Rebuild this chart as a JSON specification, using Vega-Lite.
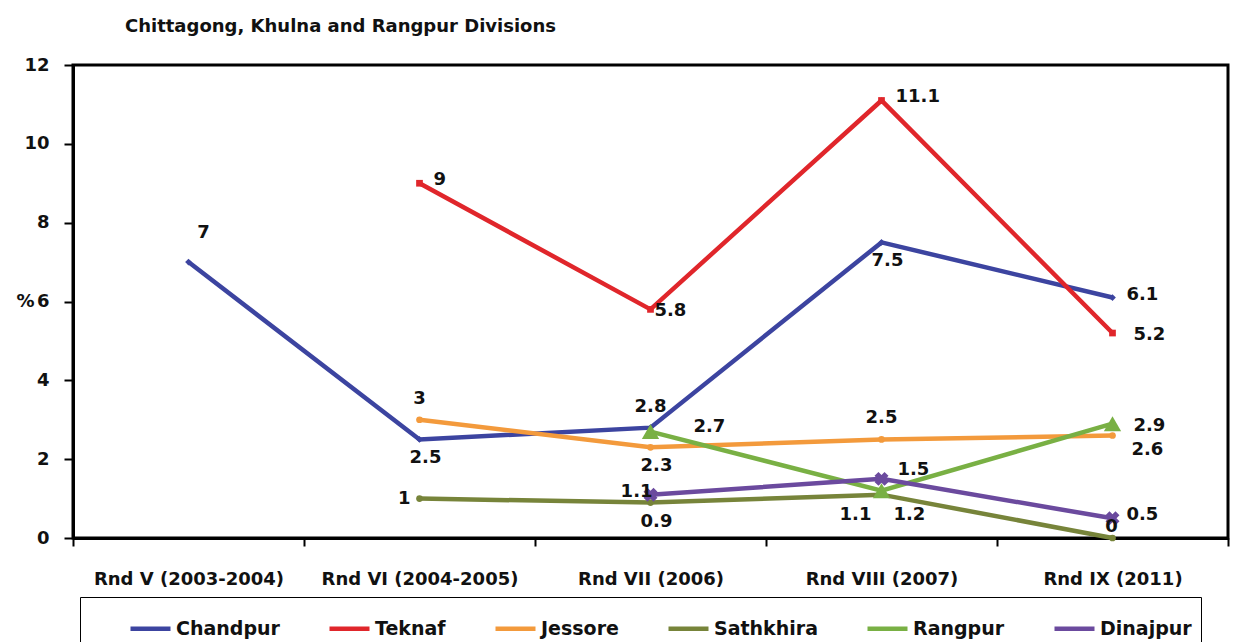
{
  "$schema": "https://vega.github.io/schema/vega-lite/v6.json",
  "width": 1155,
  "height": 473,
  "autosize": {"type": "none"},
  "padding": {"left": 73, "top": 65, "right": 11, "bottom": 104},
  "background": "white",
  "title": {"text": "Chittagong, Khulna and Rangpur Divisions", "anchor": "start", "dx": 109, "offset": 20, "font": "DejaVu Sans", "fontSize": 18, "fontWeight": "bold", "color": "#111"},
  "config": {
    "view": {"stroke": "black", "strokeWidth": 3},
    "font": "DejaVu Sans"
  },
  "data": {"values": [
    {"series": "Chandpur", "round": "Rnd V (2003-2004)", "value": 7},
    {"series": "Chandpur", "round": "Rnd VI (2004-2005)", "value": 2.5},
    {"series": "Chandpur", "round": "Rnd VII (2006)", "value": 2.8},
    {"series": "Chandpur", "round": "Rnd VIII (2007)", "value": 7.5},
    {"series": "Chandpur", "round": "Rnd IX (2011)", "value": 6.1},
    {"series": "Teknaf", "round": "Rnd VI (2004-2005)", "value": 9},
    {"series": "Teknaf", "round": "Rnd VII (2006)", "value": 5.8},
    {"series": "Teknaf", "round": "Rnd VIII (2007)", "value": 11.1},
    {"series": "Teknaf", "round": "Rnd IX (2011)", "value": 5.2},
    {"series": "Jessore", "round": "Rnd VI (2004-2005)", "value": 3},
    {"series": "Jessore", "round": "Rnd VII (2006)", "value": 2.3},
    {"series": "Jessore", "round": "Rnd VIII (2007)", "value": 2.5},
    {"series": "Jessore", "round": "Rnd IX (2011)", "value": 2.6},
    {"series": "Sathkhira", "round": "Rnd VI (2004-2005)", "value": 1},
    {"series": "Sathkhira", "round": "Rnd VII (2006)", "value": 0.9},
    {"series": "Sathkhira", "round": "Rnd VIII (2007)", "value": 1.1},
    {"series": "Sathkhira", "round": "Rnd IX (2011)", "value": 0},
    {"series": "Rangpur", "round": "Rnd VII (2006)", "value": 2.7},
    {"series": "Rangpur", "round": "Rnd VIII (2007)", "value": 1.2},
    {"series": "Rangpur", "round": "Rnd IX (2011)", "value": 2.9},
    {"series": "Dinajpur", "round": "Rnd VII (2006)", "value": 1.1},
    {"series": "Dinajpur", "round": "Rnd VIII (2007)", "value": 1.5},
    {"series": "Dinajpur", "round": "Rnd IX (2011)", "value": 0.5}
  ]},
  "encoding": {
    "x": {"field": "round", "type": "nominal",
      "sort": ["Rnd V (2003-2004)", "Rnd VI (2004-2005)", "Rnd VII (2006)", "Rnd VIII (2007)", "Rnd IX (2011)"],
      "scale": {"type": "band", "paddingInner": 0, "paddingOuter": 0},
      "axis": {"title": null, "labelAngle": 0, "labelLimit": 0, "tickBand": "extent", "labelFont": "DejaVu Sans", "labelFontSize": 18, "labelFontWeight": "bold", "labelColor": "#111", "labelPadding": 24, "tickSize": 8, "tickWidth": 2, "tickColor": "black", "domainColor": "black", "domainWidth": 3}},
    "y": {"field": "value", "type": "quantitative",
      "scale": {"domain": [0, 12], "nice": false},
      "axis": {"values": [0, 2, 4, 6, 8, 10, 12], "grid": false, "title": "%", "titleAngle": 0, "titleAlign": "right", "titleBaseline": "middle", "titleX": -39, "titleY": 236, "titleFont": "DejaVu Sans", "titleFontSize": 18, "titleFontWeight": "bold", "titleColor": "#111", "labelFont": "DejaVu Sans", "labelFontSize": 18, "labelFontWeight": "bold", "labelColor": "#111", "labelPadding": 15, "tickSize": 9, "tickWidth": 2, "tickColor": "black", "domainColor": "black", "domainWidth": 3}}
  },
  "layer": [
    {
      "mark": {"type": "line", "strokeWidth": 4.5},
      "encoding": {
        "color": {"field": "series", "type": "nominal",
          "scale": {"domain": ["Chandpur", "Teknaf", "Jessore", "Sathkhira", "Rangpur", "Dinajpur"], "range": ["#3c44a0", "#e0262b", "#f39a3c", "#77843a", "#79b044", "#6b4a9e"]},
          "legend": {"title": "\u00a0", "titleOrient": "left", "titlePadding": 39, "orient": "none", "legendX": 7, "legendY": 532, "direction": "horizontal", "strokeColor": "black", "padding": 9, "labelFont": "DejaVu Sans", "labelFontSize": 19, "labelFontWeight": "bold", "labelColor": "#111", "symbolType": "stroke", "symbolStrokeWidth": 4.5, "symbolSize": 1600, "labelOffset": 3, "columnPadding": 40}},
        "order": {"value": null}
      }
    },
    {
      "transform": [{"filter": "datum.series != 'Dinajpur' && datum.series != 'Rangpur'"}],
      "mark": {"type": "point", "filled": true, "opacity": 1, "size": 45},
      "encoding": {
        "color": {"field": "series", "type": "nominal", "legend": null},
        "shape": {"field": "series", "type": "nominal", "legend": null,
          "scale": {"domain": ["Chandpur", "Teknaf", "Jessore", "Sathkhira"], "range": ["diamond", "square", "circle", "circle"]}}
      }
    },
    {
      "transform": [{"filter": "datum.series == 'Rangpur'"}],
      "mark": {"type": "point", "filled": true, "opacity": 1, "shape": "triangle-up", "size": 300, "color": "#79b044"}
    },
    {
      "transform": [{"filter": "datum.series == 'Dinajpur'"}],
      "mark": {"type": "point", "filled": true, "opacity": 1, "shape": "cross", "angle": 45, "size": 200, "color": "#6b4a9e"}
    },
    {
      "transform": [{"filter": "(datum.series == 'Chandpur' && datum.round == 'Rnd VII (2006)') || (datum.series == 'Jessore' && datum.round == 'Rnd VI (2004-2005)') || (datum.series == 'Jessore' && datum.round == 'Rnd VIII (2007)')"}],
      "mark": {"type": "text", "font": "DejaVu Sans", "fontSize": 18, "fontWeight": "bold", "color": "#111", "align": "center", "baseline": "middle", "dx": 0, "dy": -21},
      "encoding": {"text": {"field": "value", "type": "quantitative"}}
    },
    {
      "transform": [{"filter": "datum.series == 'Chandpur' && datum.round == 'Rnd V (2003-2004)'"}],
      "mark": {"type": "text", "font": "DejaVu Sans", "fontSize": 18, "fontWeight": "bold", "color": "#111", "align": "center", "baseline": "middle", "dx": 15, "dy": -29},
      "encoding": {"text": {"field": "value", "type": "quantitative"}}
    },
    {
      "transform": [{"filter": "(datum.series == 'Chandpur' && datum.round == 'Rnd VI (2004-2005)') || (datum.series == 'Chandpur' && datum.round == 'Rnd VIII (2007)') || (datum.series == 'Jessore' && datum.round == 'Rnd VII (2006)') || (datum.series == 'Sathkhira' && datum.round == 'Rnd VII (2006)')"}],
      "mark": {"type": "text", "font": "DejaVu Sans", "fontSize": 18, "fontWeight": "bold", "color": "#111", "align": "center", "baseline": "middle", "dx": 6, "dy": 19},
      "encoding": {"text": {"field": "value", "type": "quantitative"}}
    },
    {
      "transform": [{"filter": "(datum.series == 'Chandpur' && datum.round == 'Rnd IX (2011)') || (datum.series == 'Teknaf' && datum.round == 'Rnd VI (2004-2005)') || (datum.series == 'Teknaf' && datum.round == 'Rnd VIII (2007)') || (datum.series == 'Dinajpur' && datum.round == 'Rnd IX (2011)')"}],
      "mark": {"type": "text", "font": "DejaVu Sans", "fontSize": 18, "fontWeight": "bold", "color": "#111", "align": "left", "baseline": "middle", "dx": 14, "dy": -3},
      "encoding": {"text": {"field": "value", "type": "quantitative"}}
    },
    {
      "transform": [{"filter": "(datum.series == 'Teknaf' || datum.series == 'Rangpur') && datum.round == 'Rnd IX (2011)'"}],
      "mark": {"type": "text", "font": "DejaVu Sans", "fontSize": 18, "fontWeight": "bold", "color": "#111", "align": "left", "baseline": "middle", "dx": 21, "dy": 2},
      "encoding": {"text": {"field": "value", "type": "quantitative"}}
    },
    {
      "transform": [{"filter": "datum.series == 'Teknaf' && datum.round == 'Rnd VII (2006)'"}],
      "mark": {"type": "text", "font": "DejaVu Sans", "fontSize": 18, "fontWeight": "bold", "color": "#111", "align": "left", "baseline": "middle", "dx": 4, "dy": 2},
      "encoding": {"text": {"field": "value", "type": "quantitative"}}
    },
    {
      "transform": [{"filter": "datum.series == 'Jessore' && datum.round == 'Rnd IX (2011)'"}],
      "mark": {"type": "text", "font": "DejaVu Sans", "fontSize": 18, "fontWeight": "bold", "color": "#111", "align": "left", "baseline": "middle", "dx": 19, "dy": 14},
      "encoding": {"text": {"field": "value", "type": "quantitative"}}
    },
    {
      "transform": [{"filter": "datum.series == 'Sathkhira' && datum.round == 'Rnd VI (2004-2005)'"}],
      "mark": {"type": "text", "font": "DejaVu Sans", "fontSize": 18, "fontWeight": "bold", "color": "#111", "align": "right", "baseline": "middle", "dx": -9, "dy": 0},
      "encoding": {"text": {"field": "value", "type": "quantitative"}}
    },
    {
      "transform": [{"filter": "datum.series == 'Dinajpur' && datum.round == 'Rnd VII (2006)'"}],
      "mark": {"type": "text", "font": "DejaVu Sans", "fontSize": 18, "fontWeight": "bold", "color": "#111", "align": "right", "baseline": "middle", "dx": 2, "dy": -3},
      "encoding": {"text": {"field": "value", "type": "quantitative"}}
    },
    {
      "transform": [{"filter": "datum.series == 'Sathkhira' && datum.round == 'Rnd VIII (2007)'"}],
      "mark": {"type": "text", "font": "DejaVu Sans", "fontSize": 18, "fontWeight": "bold", "color": "#111", "align": "center", "baseline": "middle", "dx": -26, "dy": 20},
      "encoding": {"text": {"field": "value", "type": "quantitative"}}
    },
    {
      "transform": [{"filter": "datum.series == 'Sathkhira' && datum.round == 'Rnd IX (2011)'"}],
      "mark": {"type": "text", "font": "DejaVu Sans", "fontSize": 18, "fontWeight": "bold", "color": "#111", "align": "center", "baseline": "middle", "dx": -1, "dy": -11},
      "encoding": {"text": {"field": "value", "type": "quantitative"}}
    },
    {
      "transform": [{"filter": "datum.series == 'Rangpur' && datum.round == 'Rnd VII (2006)'"}],
      "mark": {"type": "text", "font": "DejaVu Sans", "fontSize": 18, "fontWeight": "bold", "color": "#111", "align": "left", "baseline": "middle", "dx": 43, "dy": -5},
      "encoding": {"text": {"field": "value", "type": "quantitative"}}
    },
    {
      "transform": [{"filter": "datum.series == 'Dinajpur' && datum.round == 'Rnd VIII (2007)'"}],
      "mark": {"type": "text", "font": "DejaVu Sans", "fontSize": 18, "fontWeight": "bold", "color": "#111", "align": "left", "baseline": "middle", "dx": 16, "dy": -9},
      "encoding": {"text": {"field": "value", "type": "quantitative"}}
    },
    {
      "transform": [{"filter": "datum.series == 'Rangpur' && datum.round == 'Rnd VIII (2007)'"}],
      "mark": {"type": "text", "font": "DejaVu Sans", "fontSize": 18, "fontWeight": "bold", "color": "#111", "align": "left", "baseline": "middle", "dx": 12, "dy": 24},
      "encoding": {"text": {"field": "value", "type": "quantitative"}}
    }
  ]
}
